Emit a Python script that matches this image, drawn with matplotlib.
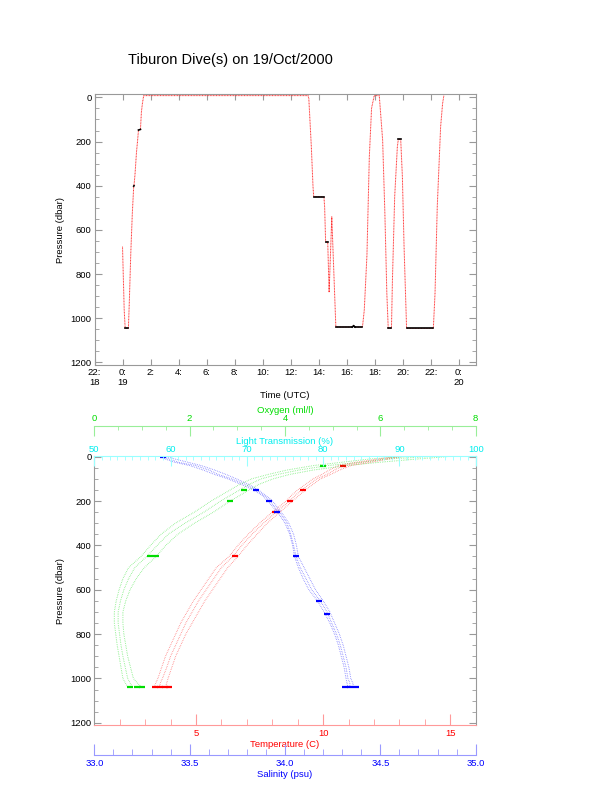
import numpy as np
import matplotlib
matplotlib.use("Agg")
import matplotlib.pyplot as plt
from matplotlib.ticker import MultipleLocator, FixedLocator

plt.rcParams['font.family'] = ['Liberation Sans', 'DejaVu Sans']

# --- dive track: hours after 0:00 on 19 Oct, pressure (dbar)
dive_hours = [0.0, 0.12, 0.19, 0.42, 0.49, 0.59, 0.70, 0.80, 0.82, 0.89, 1.0, 1.07,
              1.14, 1.28, 1.35, 1.42, 1.51, 13.25, 13.3, 13.48, 13.6, 13.65, 14.38,
              14.43, 14.5, 14.65, 14.75, 14.94, 15.23, 16.4, 16.5, 16.6, 17.13,
              17.26, 17.45, 17.62, 17.78, 17.97, 18.33, 18.57, 18.73, 18.87, 18.97,
              19.2, 19.27, 19.43, 19.62, 19.69, 19.86, 19.98, 20.1, 20.28, 22.19,
              22.31, 22.47, 22.71, 22.85, 22.94]
dive_pres = [676, 963, 1046, 1046, 918, 706, 525, 402, 400, 350, 246, 200,
             148, 145, 65, 28, -8, -8, 5, 224, 405, 450, 450,
             497, 655, 655, 883, 541, 1040, 1040, 1035, 1040, 1040,
             963, 714, 269, 49, -8, -8, 193, 525, 888, 1046,
             1046, 827, 450, 224, 190, 190, 359, 676, 1046, 1046,
             888, 495, 133, 28, -8]
time_ticks = [-2, 0, 2, 4, 6, 8, 10, 12, 14, 16, 18, 20, 22, 24]
time_labels = ["22:\n18", "0:\n19", "2:", "4:", "6:", "8:", "10:", "12:", "14:",
               "16:", "18:", "20:", "22:", "0:\n20"]

# --- profiles (three casts each)
prof_p = [0, 10, 25, 40, 60, 80, 100, 125, 150, 175, 200, 250, 300, 350, 400, 450,
          500, 550, 600, 650, 700, 750, 800, 850, 900, 950, 1000, 1020, 1040]
sal_1 = [33.36, 33.39, 33.44, 33.53, 33.60, 33.65, 33.72, 33.79, 33.85, 33.89, 33.92,
         33.97, 34.01, 34.03, 34.045, 34.058, 34.08, 34.11, 34.14, 34.185, 34.22,
         34.245, 34.27, 34.29, 34.305, 34.32, 34.33, 34.34, 34.34]
sal_2 = [33.38, 33.42, 33.49, 33.56, 33.63, 33.69, 33.745, 33.81, 33.86, 33.90, 33.935,
         33.98, 34.02, 34.045, 34.06, 34.07, 34.10, 34.13, 34.16, 34.20, 34.235,
         34.26, 34.285, 34.305, 34.32, 34.335, 34.345, 34.355, 34.36]
sal_3 = [33.35, 33.37, 33.42, 33.50, 33.57, 33.63, 33.70, 33.77, 33.835, 33.88, 33.91,
         33.96, 34.0, 34.025, 34.04, 34.05, 34.07, 34.095, 34.125, 34.17, 34.205,
         34.235, 34.26, 34.28, 34.295, 34.31, 34.32, 34.325, 34.33]
temp_1 = [12.96, 12.4, 11.6, 10.8, 10.45, 10.15, 9.75, 9.45, 9.15, 8.9, 8.68, 8.15,
          7.65, 7.2, 6.8, 6.45, 6.0, 5.7, 5.4, 5.1, 4.85, 4.6, 4.4, 4.2, 4.0, 3.85,
          3.68, 3.6, 3.55]
temp_2 = [13.1, 12.6, 11.9, 11.1, 10.65, 10.3, 9.9, 9.6, 9.3, 9.05, 8.8, 8.3, 7.8,
          7.4, 7.0, 6.65, 6.25, 5.95, 5.65, 5.35, 5.1, 4.85, 4.6, 4.4, 4.2, 4.05,
          3.9, 3.85, 3.8]
temp_3 = [12.8, 12.2, 11.3, 10.6, 10.25, 9.95, 9.6, 9.3, 9.0, 8.75, 8.55, 8.0, 7.5,
          7.05, 6.65, 6.3, 5.8, 5.5, 5.2, 4.9, 4.65, 4.4, 4.2, 4.0, 3.8, 3.65, 3.5,
          3.42, 3.35]
oxy_1 = [7.0, 6.2, 5.6, 4.9, 4.3, 3.85, 3.5, 3.25, 3.05, 2.85, 2.65, 2.3, 1.9, 1.55,
         1.32, 1.1, 0.85, 0.72, 0.62, 0.55, 0.5, 0.5, 0.53, 0.56, 0.6, 0.65, 0.7,
         0.75, 0.8]
oxy_2 = [7.4, 6.8, 6.0, 5.3, 4.6, 4.1, 3.75, 3.45, 3.25, 3.05, 2.85, 2.5, 2.1, 1.75,
         1.5, 1.3, 1.05, 0.88, 0.75, 0.66, 0.6, 0.6, 0.62, 0.66, 0.7, 0.76, 0.82,
         0.9, 1.0]
oxy_3 = [6.5, 5.8, 5.2, 4.6, 4.05, 3.65, 3.3, 3.05, 2.85, 2.65, 2.45, 2.1, 1.7, 1.4,
         1.18, 0.98, 0.72, 0.6, 0.52, 0.46, 0.42, 0.42, 0.45, 0.48, 0.52, 0.56, 0.6,
         0.65, 0.7]

# dense clusters where the vehicle held depth
hold_sal_p = [0, 150, 200, 250, 450, 650, 710, 1040, 1040, 1040]
hold_sal = [33.36, 33.85, 33.918, 33.956, 34.058, 34.18, 34.22, 34.315, 34.34, 34.37]
hold_temp_p = [40, 150, 200, 250, 450, 1040, 1040, 1040, 1040]
hold_temp = [10.8, 9.22, 8.7, 8.1, 6.53, 3.4, 3.6, 3.8, 3.95]
hold_oxy_p = [40, 150, 200, 450, 450, 1040, 1040, 1040]
hold_oxy = [4.8, 3.13, 2.85, 1.17, 1.3, 0.75, 0.9, 1.0]

W, H = 612, 785
fig = plt.figure(figsize=(W / 100, H / 100), dpi=100)
fs = 6.8
grey = '#999999'

# ---------------- top panel: dive track
ax1 = fig.add_axes([94.5 / W, 1 - 365 / H, 381 / W, 270.7 / H])
ax1.set_xlim(-2, 25.2)
ax1.set_ylim(1212, -14)
t = np.array(dive_hours)
p = np.array(dive_pres)
ax1.plot(t, p, color='#ff3030', lw=0.7, ls=(0, (1, 0.6)))
flat = (np.abs(np.diff(p)) < 10) & (p[:-1] > 100)
for i in np.where(flat)[0]:
    ax1.plot(t[i:i + 2], p[i:i + 2], color='black', lw=1.2)
ax1.set_xticks(time_ticks)
ax1.set_xticklabels(time_labels, fontsize=fs, linespacing=1.15)
ax1.set_yticks(range(0, 1201, 200))
ax1.yaxis.set_minor_locator(MultipleLocator(50))
ax1.tick_params(axis='both', which='both', direction='in', top=True, right=True,
                color=grey, labelsize=fs, pad=2)
ax1.tick_params(axis='y', which='major', length=5)
ax1.tick_params(axis='y', which='minor', length=3)
ax1.tick_params(axis='x', which='major', length=4)
for s in ax1.spines.values():
    s.set_color(grey)
    s.set_linewidth(0.8)
ax1.set_xlabel("Time (UTC)", fontsize=fs, labelpad=3)
ax1.set_ylabel("Pressure (dbar)", fontsize=fs, labelpad=4)
fig.text(230 / W, 1 - 60 / H, "Tiburon Dive(s) on 19/Oct/2000", fontsize=10.5,
         ha='center', va='center')

# ---------------- bottom panel: profiles
axT = fig.add_axes([94.3 / W, 1 - 725 / H, 381.4 / W, 269 / H])
axT.set_xlim(1, 16)
axT.set_ylim(1210, -3)
axS = axT.twiny()
axO = axT.twiny()
axL = axT.twiny()
axS.set_xlim(33, 35)
axO.set_xlim(0, 8)
axL.set_xlim(50, 100)

dot = (0, (0.6, 1.2))
for cast in (sal_1, sal_2, sal_3):
    axS.plot(cast, prof_p, color='#0000ff', lw=0.7, ls=dot, alpha=0.6)
for cast in (temp_1, temp_2, temp_3):
    axT.plot(cast, prof_p, color='#ff0000', lw=0.7, ls=dot, alpha=0.6)
for cast in (oxy_1, oxy_2, oxy_3):
    axO.plot(cast, prof_p, color='#00dd00', lw=0.7, ls=dot, alpha=0.6)
axS.plot(hold_sal, hold_sal_p, ls='none', marker='_', ms=5, mew=1.6, color='#0000ff')
axT.plot(hold_temp, hold_temp_p, ls='none', marker='_', ms=5, mew=1.6, color='#ff0000')
axO.plot(hold_oxy, hold_oxy_p, ls='none', marker='_', ms=5, mew=1.6, color='#00dd00')

# temperature axis (bottom spine)
axT.xaxis.set_major_locator(FixedLocator([5, 10, 15]))
axT.xaxis.set_minor_locator(MultipleLocator(1))
axT.tick_params(axis='x', which='both', direction='in', color='#ff9999',
                labelcolor='#ff0000', labelsize=fs, pad=3)
axT.tick_params(axis='x', which='major', length=8)
axT.tick_params(axis='x', which='minor', length=4.3)
axT.set_xlabel("Temperature (C)", fontsize=fs, color='#ff0000', labelpad=1)
axT.set_yticks(range(0, 1201, 200))
axT.yaxis.set_minor_locator(MultipleLocator(50))
axT.tick_params(axis='y', which='both', direction='in', right=True, color=grey,
                labelsize=fs, pad=2)
axT.tick_params(axis='y', which='major', length=5)
axT.tick_params(axis='y', which='minor', length=3)
axT.set_ylabel("Pressure (dbar)", fontsize=fs, labelpad=4)
axT.spines['bottom'].set_color('#ff9999')
axT.spines['left'].set_color(grey)
axT.spines['right'].set_color(grey)
axT.spines['top'].set_visible(False)

# salinity axis (detached below)
axS.xaxis.set_ticks_position('bottom')
axS.xaxis.set_label_position('bottom')
for k in ('top', 'left', 'right'):
    axS.spines[k].set_visible(False)
axS.spines['bottom'].set_position(('outward', 21.6))
axS.spines['bottom'].set_color('#9999ff')
axS.xaxis.set_major_locator(MultipleLocator(0.5))
axS.xaxis.set_minor_locator(MultipleLocator(0.1))
axS.xaxis.set_major_formatter('{x:.1f}')
axS.tick_params(axis='x', which='both', direction='in', color='#9999ff',
                labelcolor='#0000ff', labelsize=fs, pad=3)
axS.tick_params(axis='x', which='major', length=8)
axS.tick_params(axis='x', which='minor', length=4)
axS.set_xlabel("Salinity (psu)", fontsize=fs, color='#0000ff', labelpad=1)

# oxygen axis (detached above)
for k in ('bottom', 'left', 'right'):
    axO.spines[k].set_visible(False)
axO.spines['top'].set_position(('outward', 21.8))
axO.spines['top'].set_color('#99ee99')
axO.xaxis.set_major_locator(MultipleLocator(2))
axO.xaxis.set_minor_locator(MultipleLocator(0.5))
axO.tick_params(axis='x', which='both', direction='in', color='#99ee99',
                labelcolor='#00dd00', labelsize=fs, pad=2)
axO.tick_params(axis='x', which='major', length=7)
axO.tick_params(axis='x', which='minor', length=3)
axO.set_xlabel("Oxygen (ml/l)", fontsize=fs, color='#00dd00', labelpad=1)

# light transmission axis (box top)
for k in ('bottom', 'left', 'right'):
    axL.spines[k].set_visible(False)
axL.spines['top'].set_color('#99ffff')
axL.xaxis.set_major_locator(MultipleLocator(10))
axL.xaxis.set_minor_locator(MultipleLocator(1))
axL.tick_params(axis='x', which='both', direction='in', color='#99ffff',
                labelcolor='#00eeee', labelsize=fs, pad=1.5)
axL.tick_params(axis='x', which='major', length=7)
axL.tick_params(axis='x', which='minor', length=3)
axL.set_xlabel("Light Transmission (%)", fontsize=fs, color='#00eeee', labelpad=1)

fig.savefig("out.png", dpi=100, facecolor='white')
